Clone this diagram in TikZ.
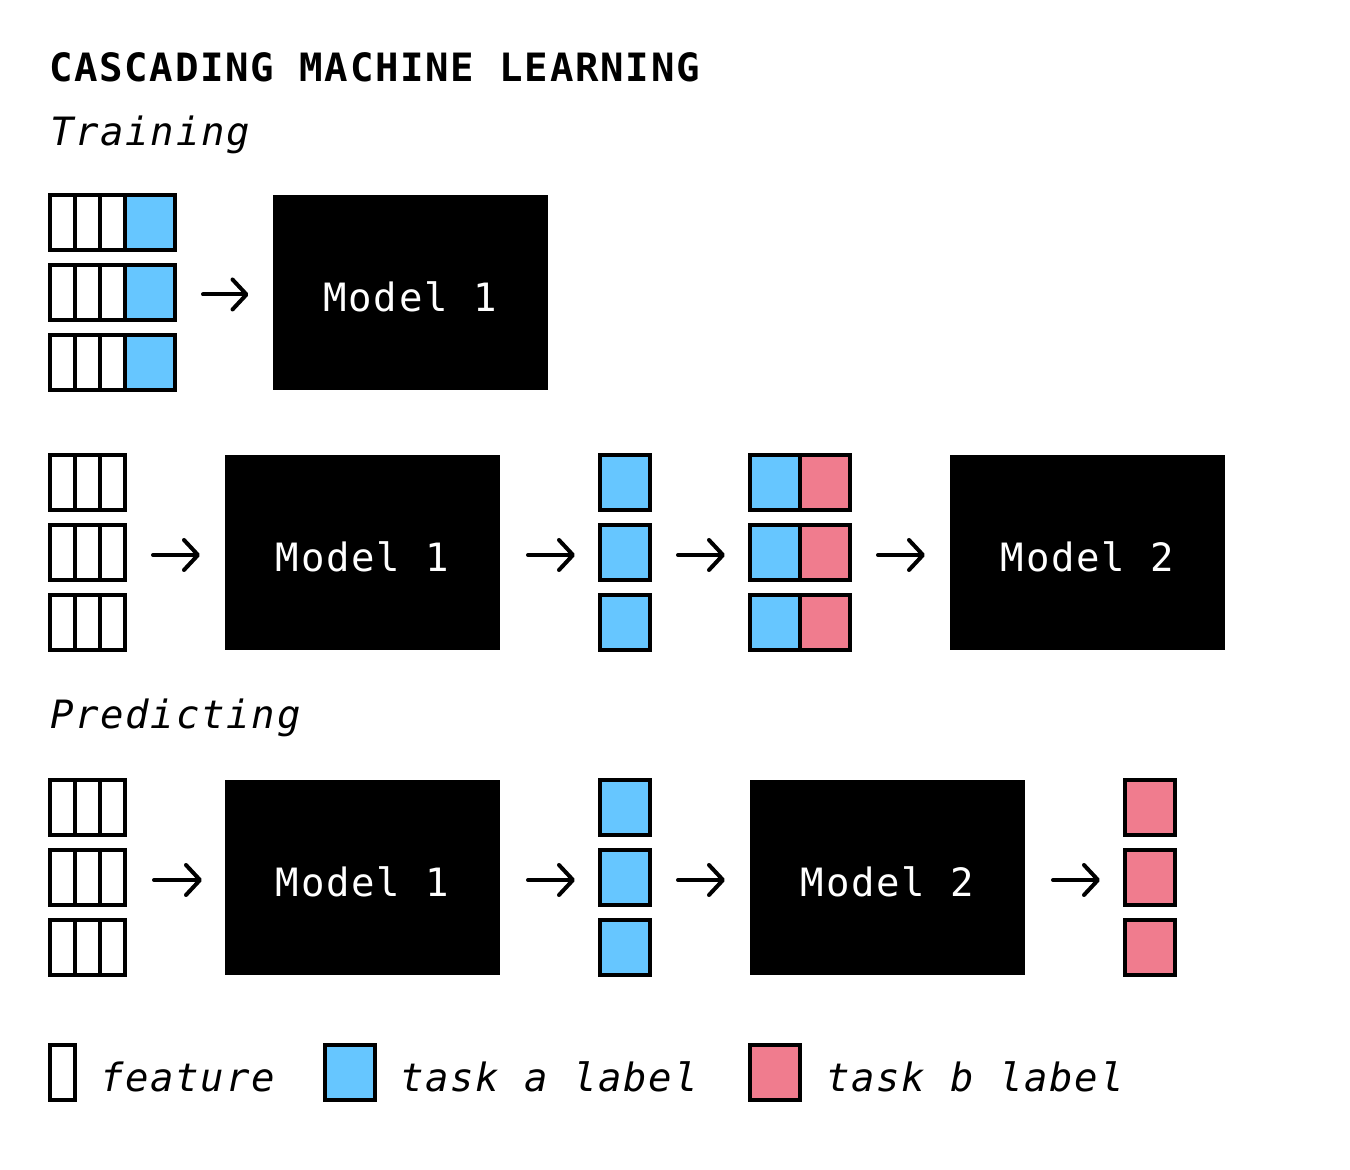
\documentclass[tikz,border=0pt]{standalone}
\usepackage{fontspec}
\setmainfont{DejaVu Sans Mono}[LetterSpace=4.5, BoldFont={DejaVu Sans Mono Bold}, ItalicFont={DejaVu Sans Mono Oblique}]
\usetikzlibrary{arrows.meta,calc}
\definecolor{labA}{HTML}{66C6FF}
\definecolor{labB}{HTML}{F07C8E}
\tikzset{
  cellbase/.style={rectangle, draw=black, line width=2.25pt, outer sep=0pt, inner sep=0pt, minimum height=27.5pt},
  featcell/.style={cellbase, fill=white, minimum width=12.5pt},
  acell/.style={cellbase, fill=labA, minimum width=25pt},
  bcell/.style={cellbase, fill=labB, minimum width=25pt},
  modelbox/.style={rectangle, fill=black, text=white, outer sep=0pt, inner sep=0pt,
    minimum width=137.5pt, minimum height=97.5pt, text height=19pt, text depth=0pt},
  flow/.style={line width=2pt, line cap=round, -{Straight Barb[length=7pt,width=15pt,round]}},
  txt/.style={anchor=base west, inner sep=0pt, outer sep=0pt},
  bodyfont/.style={font=\fontsize{19.5}{23}\selectfont},
  italfont/.style={font=\fontsize{19.5}{23}\selectfont\itshape},
}
\begin{document}
\begin{tikzpicture}[x=0.5pt, y=-0.5pt, bodyfont]
\useasboundingbox (0,0) rectangle (1350,1170);

% titles
\node[txt, font=\fontsize{19.5}{23}\selectfont\bfseries] (title) at (49,82) {CASCADING MACHINE LEARNING};
\node[txt, italfont] (train) at (50,146) {Training};
\node[txt, italfont] (pred) at (50,729) {Predicting};

% ---------- Training row 1 ----------
\foreach \r/\y in {1/222.5, 2/292.5, 3/362.5}{
  \node[featcell] (t1f\r a) at (62.5,\y) {};
  \node[featcell] (t1f\r b) at (87.5,\y) {};
  \node[featcell] (t1f\r c) at (112.5,\y) {};
  \node[acell] (t1l\r) at (150,\y) {};
}
\node[modelbox] (t1m) at (410,292.5) {Model 1};
\draw[flow] ($(t1l2.east)+(28,2)$) -- ($(t1m.west)+(-24,2)$);

% ---------- Training row 2 ----------
\foreach \r/\y in {1/482.5, 2/552.5, 3/622.5}{
  \node[featcell] (t2f\r a) at (62.5,\y) {};
  \node[featcell] (t2f\r b) at (87.5,\y) {};
  \node[featcell] (t2f\r c) at (112.5,\y) {};
  \node[acell] (t2a\r) at (625,\y) {};
  \node[acell] (t2ba\r) at (775,\y) {};
  \node[bcell] (t2bb\r) at (825,\y) {};
}
\node[modelbox] (t2m1) at (362.5,552.5) {Model 1};
\node[modelbox] (t2m2) at (1087.5,552.5) {Model 2};
\draw[flow] ($(t2f2c.east)+(28,2.5)$) -- ($(t2m1.west)+(-25,2.5)$);
\draw[flow] ($(t2m1.east)+(28,2.5)$) -- ($(t2a2.west)+(-25,2.5)$);
\draw[flow] ($(t2a2.east)+(28,2.5)$) -- ($(t2ba2.west)+(-25,2.5)$);
\draw[flow] ($(t2bb2.east)+(28,2.5)$) -- ($(t2m2.west)+(-25,2.5)$);

% ---------- Predicting ----------
\foreach \r/\y in {1/807.5, 2/877.5, 3/947.5}{
  \node[featcell] (pf\r a) at (62.5,\y) {};
  \node[featcell] (pf\r b) at (87.5,\y) {};
  \node[featcell] (pf\r c) at (112.5,\y) {};
  \node[acell] (pa\r) at (625,\y) {};
  \node[bcell] (pb\r) at (1150,\y) {};
}
\node[modelbox] (pm1) at (362.5,877.5) {Model 1};
\node[modelbox] (pm2) at (887.5,877.5) {Model 2};
\draw[flow] ($(pf2c.east)+(29,2.5)$) -- ($(pm1.west)+(-23,2.5)$);
\draw[flow] ($(pm1.east)+(28,2.5)$) -- ($(pa2.west)+(-25,2.5)$);
\draw[flow] ($(pa2.east)+(28,2.5)$) -- ($(pm2.west)+(-25,2.5)$);
\draw[flow] ($(pm2.east)+(28,2.5)$) -- ($(pb2.west)+(-25,2.5)$);

% ---------- Legend ----------
\node[featcell] (lgf) at (62.5,1072.5) {};
\node[acell] (lga) at (350,1072.5) {};
\node[bcell] (lgb) at (775,1072.5) {};
\node[txt, italfont] (lgft) at (100,1091) {feature};
\node[txt, italfont] (lgat) at (400,1091) {task a label};
\node[txt, italfont] (lgbt) at (826,1091) {task b label};
\end{tikzpicture}
\end{document}
